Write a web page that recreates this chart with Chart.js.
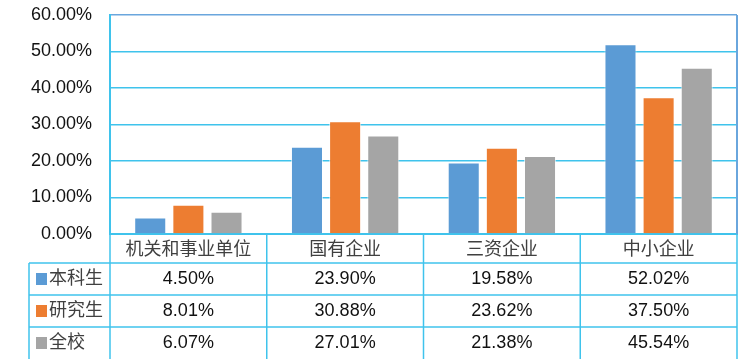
<!DOCTYPE html>
<html lang="zh">
  <head>
    <meta charset="UTF-8" />
    <title>就业单位性质分布</title>
    <script src="https://cdn.jsdelivr.net/npm/chart.js@4"></script>
    <style>
      body {
        margin: 0;
        background: #fff;
      }
    </style>
  </head>
  <body>
    <div style="width: 750px; height: 359px">
      <canvas id="chart"></canvas>
    </div>
    <script>
      const categories = ['机关和事业单位', '国有企业', '三资企业', '中小企业'];
      const seriesNames = ['本科生', '研究生', '全校'];
      const undergrad = [4.5, 23.9, 19.58, 52.02];
      const graduate = [8.01, 30.88, 23.62, 37.5];
      const wholeSchool = [6.07, 27.01, 21.38, 45.54];
      const seriesColors = ['#5b9bd5', '#ed7d31', '#a5a5a5'];

      const FONT = "'Liberation Sans', Arial, 'Noto Sans CJK SC', sans-serif";
      const gridCyan = '#3fc3ec';
      const borderBlue = '#6aa6dd';

      // table under the axis, columns follow the x scale
      const tablePlugin = {
        id: 'dataTable',
        afterDraw(chart) {
          const ctx = chart.ctx;
          const x = chart.scales.x;
          const area = chart.chartArea;
          const top = x.bottom;
          const bottom = chart.height;
          const rowH = (bottom - top) / 3;
          const tableLeft = 29;

          const edges = [area.left];
          for (let i = 0; i < categories.length - 1; i++) {
            edges.push((x.getPixelForTick(i) + x.getPixelForTick(i + 1)) / 2);
          }
          edges.push(area.right);

          ctx.save();
          ctx.strokeStyle = gridCyan;
          ctx.lineWidth = 1.5;
          // vertical lines
          edges.forEach((ex) => {
            ctx.beginPath();
            ctx.moveTo(ex, area.bottom);
            ctx.lineTo(ex, bottom);
            ctx.stroke();
          });
          ctx.beginPath();
          ctx.moveTo(tableLeft, top);
          ctx.lineTo(tableLeft, bottom);
          ctx.stroke();
          // horizontal lines
          for (let r = 0; r < 3; r++) {
            ctx.beginPath();
            ctx.moveTo(tableLeft, top + r * rowH);
            ctx.lineTo(area.right, top + r * rowH);
            ctx.stroke();
          }

          // right border of plot
          ctx.strokeStyle = borderBlue;
          ctx.lineWidth = 2;
          ctx.beginPath();
          ctx.moveTo(area.right, area.top);
          ctx.lineTo(area.right, area.bottom);
          ctx.stroke();

          ctx.textBaseline = 'middle';
          ctx.font = '18px ' + FONT;
          chart.data.datasets.forEach((ds, r) => {
            const cy = top + r * rowH + rowH / 2;
            ctx.fillStyle = ds.backgroundColor;
            ctx.fillRect(36, cy - 6, 11, 12);
            ctx.fillStyle = '#404040';
            ctx.textAlign = 'left';
            ctx.fillText(ds.label, 49, cy);
            ctx.fillStyle = '#111';
            ctx.textAlign = 'center';
            ds.data.forEach((v, i) => {
              ctx.fillText(v.toFixed(2) + '%', (edges[i] + edges[i + 1]) / 2, cy);
            });
          });
          ctx.restore();
        },
      };

      new Chart(document.getElementById('chart'), {
        type: 'bar',
        data: {
          labels: categories,
          datasets: [
            { label: seriesNames[0], data: undergrad, backgroundColor: seriesColors[0] },
            { label: seriesNames[1], data: graduate, backgroundColor: seriesColors[1] },
            { label: seriesNames[2], data: wholeSchool, backgroundColor: seriesColors[2] },
          ],
        },
        options: {
          responsive: true,
          maintainAspectRatio: false,
          animation: false,
          datasets: {
            bar: {
              categoryPercentage: 0.73,
              barPercentage: 0.84,
              borderColor: 'rgba(255,255,255,0.6)',
              borderWidth: 1,
            },
          },
          layout: { padding: { left: 0, right: 13, top: 15, bottom: 96 } },
          plugins: {
            legend: { display: false },
            tooltip: { enabled: false },
          },
          scales: {
            x: {
              grid: { display: false, drawTicks: false },
              border: { color: gridCyan, width: 2 },
              ticks: { color: '#404040', padding: 5, font: { size: 18, family: FONT } },
              afterFit(scale) {
                scale.height = 29;
                scale.paddingLeft = 0;
                scale.paddingRight = 0;
              },
            },
            y: {
              min: 0,
              max: 60,
              ticks: {
                stepSize: 10,
                padding: 18,
                color: '#111',
                font: { size: 18, family: FONT },
                callback: (v) => v.toFixed(2) + '%',
              },
              grid: {
                drawTicks: false,
                lineWidth: 1.5,
                color: (c) => (c.tick && c.tick.value === 60 ? borderBlue : gridCyan),
              },
              border: { color: gridCyan, width: 2 },
              afterFit(scale) {
                scale.width = 110;
                scale.paddingTop = 0;
                scale.paddingBottom = 0;
              },
            },
          },
        },
        plugins: [tablePlugin],
      });
    </script>
  </body>
</html>
